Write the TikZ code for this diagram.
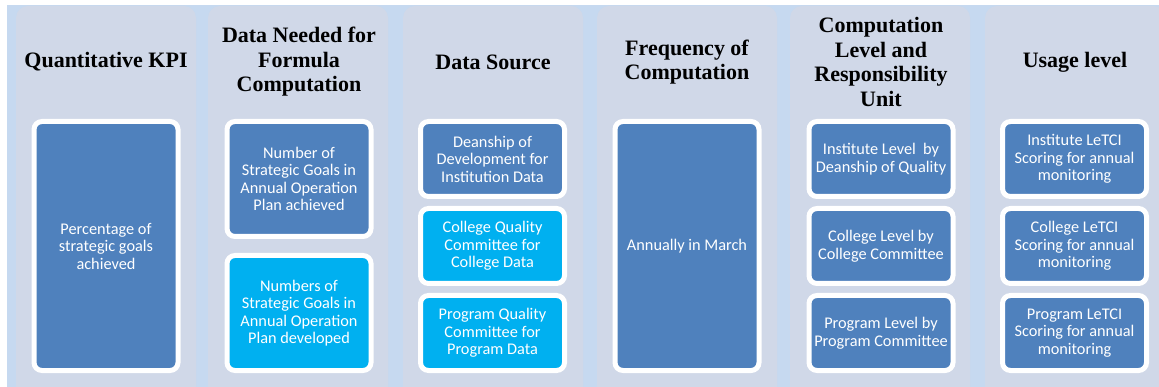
\documentclass[tikz,border=0pt]{standalone}
\usepackage{fontspec}
\setmainfont{Liberation Serif}
\newfontfamily\titlefont{Liberation Serif Bold}
\newfontfamily\bodyfont{Carlito}
\definecolor{bgblue}{HTML}{C6D9F0}
\definecolor{panelgray}{HTML}{D0D8E8}
\definecolor{darkbox}{HTML}{4F81BD}
\definecolor{cyanbox}{HTML}{00B0F0}
\tikzset{
  panel/.style={fill=panelgray, draw=none, rounded corners=12pt},
  title/.style={align=center, text=black, font=\titlefont\fontsize{22}{24.5}\selectfont, inner sep=0pt},
  kbox/.style={rectangle, rounded corners=8pt, draw=white, line width=5pt, fill=darkbox,
    text=white, align=center, minimum width=144pt, inner sep=2pt,
    font=\bodyfont\fontsize{16.3}{17.5}\selectfont},
  cbox/.style={kbox, fill=cyanbox},
}
\begin{document}
\begin{tikzpicture}[x=1pt,y=-1pt]
\useasboundingbox (0,0) rectangle (1159,387);
\fill[white] (0,0) rectangle (1159,387);
\fill[bgblue] (7,5) rectangle (1159,387);
\begin{scope}
\clip (0,0) rectangle (1159,387);
\foreach \cx in {106,298,493,687,880,1075}{
  \fill[panel] (\cx-90,6) rectangle (\cx+90,402);
}
\end{scope}
% titles
\node[title] (t1) at (106,62) {Quantitative KPI};
\node[title] (t2) at (299,62) {Data Needed for\\Formula\\Computation};
\node[title] (t3) at (493,62) {Data Source};
\node[title] (t4) at (687,62) {Frequency of\\Computation};
\node[title] (t5) at (881,62) {Computation\\Level and\\Responsibility\\Unit};
\node[title] (t6) at (1075,62) {Usage level};
% column 1
\node[kbox, minimum height=249pt] (k1) at (106,246) {Percentage of\\strategic goals\\achieved};
% column 2
\node[kbox, minimum height=115pt] (d1) at (299,179) {Number of\\Strategic Goals in\\Annual Operation\\Plan achieved};
\node[cbox, minimum height=115pt] (d2) at (299,313) {Numbers of\\Strategic Goals in\\Annual Operation\\Plan developed};
% column 3
\node[kbox, minimum height=75pt] (s1) at (492.5,159) {Deanship of\\Development for\\Institution Data};
\node[cbox, minimum height=75pt] (s2) at (492.5,246) {College Quality\\Committee for\\College Data};
\node[cbox, minimum height=75pt] (s3) at (492.5,333) {Program Quality\\Committee for\\Program Data};
% column 4
\node[kbox, minimum height=249pt] (f1) at (687,246) {Annually in March};
% column 5
\node[kbox, minimum height=75pt] (c1) at (881,159) {Institute Level\ \ by\\Deanship of Quality};
\node[kbox, minimum height=75pt] (c2) at (881,246) {College Level by\\College Committee};
\node[kbox, minimum height=75pt] (c3) at (881,333) {Program Level by\\Program Committee};
% column 6
\node[kbox, minimum height=75pt] (u1) at (1074.5,159) {Institute LeTCI\\Scoring for annual\\monitoring};
\node[kbox, minimum height=75pt] (u2) at (1074.5,246) {College LeTCI\\Scoring for annual\\monitoring};
\node[kbox, minimum height=75pt] (u3) at (1074.5,333) {Program LeTCI\\Scoring for annual\\monitoring};
\end{tikzpicture}
\end{document}
